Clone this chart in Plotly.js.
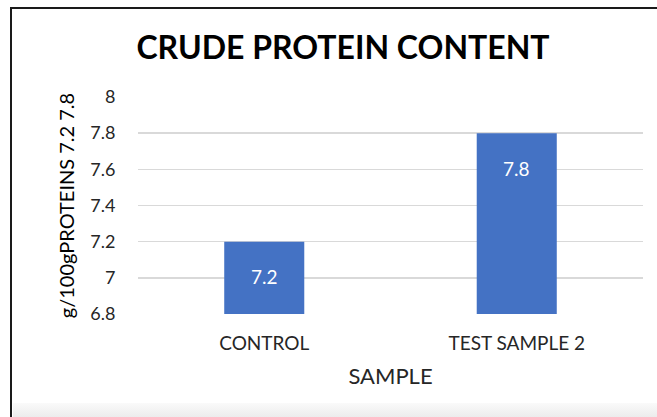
<!DOCTYPE html>
<html>
<head>
<meta charset="utf-8">
<script src="https://cdn.plot.ly/plotly-3.0.1.min.js"></script>
<style>
  html, body { margin: 0; padding: 0; background: #fff; }
  #wrap { position: relative; width: 657px; height: 417px; overflow: hidden; }
  #chart { position: absolute; left: 0; top: 0; width: 657px; height: 417px; }
  #frame { position: absolute; left: 10px; top: 7px; width: 660px; height: 420px;
           border-top: 2.5px solid #1a1a1a; border-left: 2.5px solid #1a1a1a; pointer-events: none; }
  #shade { position: absolute; left: 13px; top: 403px; width: 650px; height: 14px;
           background: linear-gradient(#fafafa, #ececec); pointer-events: none; }
</style>
</head>
<body>
<div id="wrap">
  <div id="chart"></div>
  <div id="shade"></div>
  <div id="frame"></div>
</div>
<script>
const categories = ["CONTROL", "TEST SAMPLE 2"];
const proteinValues = [7.2, 7.8];
const labelTexts = ["7.2", "7.8"];
const yTickVals = [6.8, 7, 7.2, 7.4, 7.6, 7.8, 8];
const yTickText = ["6.8", "7", "7.2", "7.4", "7.6", "7.8", "8"];

const FONT = "Lato, 'Open Sans', sans-serif";

const trace = {
  type: "bar",
  x: categories,
  y: proteinValues,
  marker: { color: "#4472C4" },
  hoverinfo: "none"
};

const annotations = categories.map((c, i) => ({
  x: c, y: proteinValues[i], xref: "x", yref: "y",
  text: labelTexts[i], showarrow: false,
  yanchor: "middle", yshift: -35,
  font: { family: FONT, size: 19, color: "#ffffff" }
}));

const layout = {
  width: 657, height: 417,
  margin: { l: 138, r: 14, t: 97, b: 103 },
  paper_bgcolor: "rgba(0,0,0,0)",
  plot_bgcolor: "rgba(0,0,0,0)",
  bargap: 0.683,
  showlegend: false,
  title: {
    text: "<b>CRUDE PROTEIN CONTENT</b>",
    font: { family: FONT, size: 32, color: "#000000" },
    x: 0.522, xref: "container", xanchor: "center",
    y: 0.885, yref: "container", yanchor: "middle"
  },
  xaxis: {
    type: "category",
    showgrid: false, zeroline: false, showline: false,
    ticks: "outside", ticklen: 12, tickcolor: "rgba(0,0,0,0)",
    tickfont: { family: FONT, size: 19, color: "#262626" },
    title: { text: "SAMPLE", standoff: 15, font: { family: FONT, size: 22, color: "#262626" } },
    fixedrange: true
  },
  yaxis: {
    range: [6.8, 8],
    tickvals: yTickVals, ticktext: yTickText,
    showgrid: true, gridcolor: "#d9d9d9", gridwidth: 1.5,
    zeroline: false, showline: false,
    ticks: "outside", ticklen: 18, tickcolor: "rgba(0,0,0,0)",
    tickfont: { family: FONT, size: 18, color: "#262626" },
    title: { text: "g/100gPROTEINS 7.2 7.8", standoff: 10, font: { family: FONT, size: 20, color: "#000000" } },
    fixedrange: true
  },
  annotations: annotations
};

Plotly.newPlot("chart", [trace], layout, { displayModeBar: false, staticPlot: true });
</script>
</body>
</html>
